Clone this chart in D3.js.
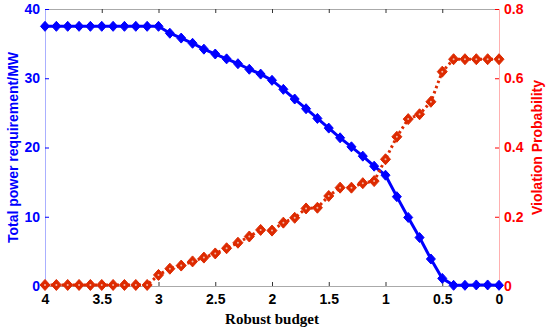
<!DOCTYPE html>
<html><head><meta charset="utf-8">
<script src="https://cdn.jsdelivr.net/npm/d3@7/dist/d3.min.js"></script>
<style>body{margin:0;background:#fff}svg{display:block}</style>
</head><body>
<svg id="c" width="550" height="331"></svg>
<script>
const budget = [4,3.9,3.8,3.7,3.6,3.5,3.4,3.3,3.2,3.1,3.0,2.9,2.8,2.7,2.6,2.5,2.4,2.3,2.2,2.1,2.0,1.9,1.8,1.7,1.6,1.5,1.4,1.3,1.2,1.1,1.0,0.9,0.8,0.7,0.6,0.5,0.4,0.3,0.2,0.1,0];
const power = [37.5,37.5,37.5,37.5,37.5,37.5,37.5,37.5,37.5,37.5,37.5,36.5,35.8,35.05,34.2,33.5,32.8,32.1,31.3,30.6,29.7,28.4,27.0,25.6,24.2,22.8,21.4,20.1,18.75,17.3,16.0,12.9,9.9,7.0,3.9,1.1,0.1,0.1,0.15,0.15,0.1];
const prob = [0.003,0.003,0.003,0.003,0.003,0.003,0.003,0.003,0.003,0.003,0.032,0.05,0.059,0.071,0.082,0.094,0.109,0.125,0.143,0.162,0.160,0.183,0.197,0.224,0.226,0.260,0.284,0.284,0.297,0.303,0.366,0.431,0.482,0.496,0.532,0.619,0.655,0.655,0.655,0.655,0.655];
const xTicks = [4,3.5,3,2.5,2,1.5,1,0.5,0];
const yLeftTicks = [0,10,20,30,40];
const yRightTicks = [0,0.2,0.4,0.6,0.8];

const svg = d3.select("#c");
const L = 45, R = 499, T = 9, B = 286;
const x = d3.scaleLinear().domain([4,0]).range([L,R]);
const yL = d3.scaleLinear().domain([0,40]).range([B,T]);
const yR = d3.scaleLinear().domain([0,0.8]).range([B,T]);

const blue = "#0000ff", red = "#ff0000", redM = "#dd2a00";
const fontS = "Liberation Sans, Arial, sans-serif";

// frame top & bottom
svg.append("line").attr("x1",L).attr("x2",R).attr("y1",T+0.5).attr("y2",T+0.5).attr("stroke","#aaa");
svg.append("line").attr("x1",L).attr("x2",R).attr("y1",B+0.5).attr("y2",B+0.5).attr("stroke","#aaa");

// x axis bottom
const xb = svg.append("g").attr("transform",`translate(0,${B})`)
  .call(d3.axisBottom(x).tickValues(xTicks).tickSize(-4).tickPadding(8).tickFormat(d3.format("")));
xb.select(".domain").remove();
xb.selectAll(".tick line").attr("stroke","#333");
xb.selectAll("text").attr("font-family",fontS).attr("font-weight","bold").attr("font-size","14px").attr("fill","#000");

const xt = svg.append("g").attr("transform",`translate(0,${T})`)
  .call(d3.axisTop(x).tickValues(xTicks).tickSize(-4).tickFormat(""));
xt.select(".domain").remove();
xt.selectAll(".tick line").attr("stroke","#333");

// left axis
const ga = svg.append("g").attr("transform",`translate(${L},0)`)
  .call(d3.axisLeft(yL).tickValues(yLeftTicks).tickSize(-4).tickPadding(5));
ga.select(".domain").attr("stroke","#aab0ff").attr("d",`M0.5,${T}V${B}`);
ga.selectAll(".tick line").attr("stroke",blue);
ga.selectAll("text").attr("font-family",fontS).attr("font-weight","bold").attr("font-size","14px").attr("fill",blue);

// right axis
const gr = svg.append("g").attr("transform",`translate(${R},0)`)
  .call(d3.axisRight(yR).tickValues(yRightTicks).tickSize(-4).tickPadding(5).tickFormat(d=> d===0?"0":d3.format(".1f")(d)));
gr.select(".domain").attr("stroke","#ffb0b0").attr("d",`M0.5,${T}V${B}`);
gr.selectAll(".tick line").attr("stroke",red);
gr.selectAll("text").attr("font-family",fontS).attr("font-weight","bold").attr("font-size","14px").attr("fill",red);

// titles
svg.append("text").attr("transform",`translate(18,${(T+B)/2}) rotate(-90)`).attr("text-anchor","middle")
  .attr("font-family",fontS).attr("font-weight","bold").attr("font-size","14px").attr("fill",blue)
  .text("Total power requirement/MW");
svg.append("text").attr("transform",`translate(542,${(T+B)/2}) rotate(-90)`).attr("text-anchor","middle")
  .attr("font-family",fontS).attr("font-weight","bold").attr("font-size","14px").attr("fill",red)
  .text("Violation Probability");
svg.append("text").attr("x",(L+R)/2).attr("y",324).attr("text-anchor","middle")
  .attr("font-family","Liberation Serif, Times New Roman, serif").attr("font-weight","bold").attr("font-size","15px").attr("fill","#000")
  .text("Robust budget");

const dB = budget.map((b,i)=>({b, v:power[i]}));
const dR = budget.map((b,i)=>({b, v:prob[i]}));

// blue line
svg.append("path").datum(dB).attr("fill","none").attr("stroke",blue).attr("stroke-width",3)
  .attr("stroke-linejoin","round")
  .attr("d",d3.line().x(d=>x(d.b)).y(d=>yL(d.v)));
svg.append("g").selectAll("path").data(dB).join("path")
  .attr("transform",d=>`translate(${x(d.b)},${yL(d.v)})`)
  .attr("d","M0,-5L4.5,0L0,5L-4.5,0Z").attr("fill",blue).attr("stroke",blue).attr("stroke-width",1);

// red dotted line
svg.append("path").datum(dR).attr("fill","none").attr("stroke",redM).attr("stroke-width",3)
  .attr("stroke-dasharray","2.5,3")
  .attr("d",d3.line().x(d=>x(d.b)).y(d=>yR(d.v)));
svg.append("g").selectAll("path").data(dR).join("path")
  .attr("transform",d=>`translate(${x(d.b)},${yR(d.v)})`)
  .attr("d","M0,-5.5L5,0L0,5.5L-5,0Z").attr("fill",redM).attr("stroke",redM).attr("stroke-width",1);
svg.append("g").selectAll("circle").data(dR).join("circle")
  .attr("cx",d=>x(d.b)).attr("cy",d=>yR(d.v)).attr("r",1).attr("fill","#f2b8a8");
</script>
</body></html>
